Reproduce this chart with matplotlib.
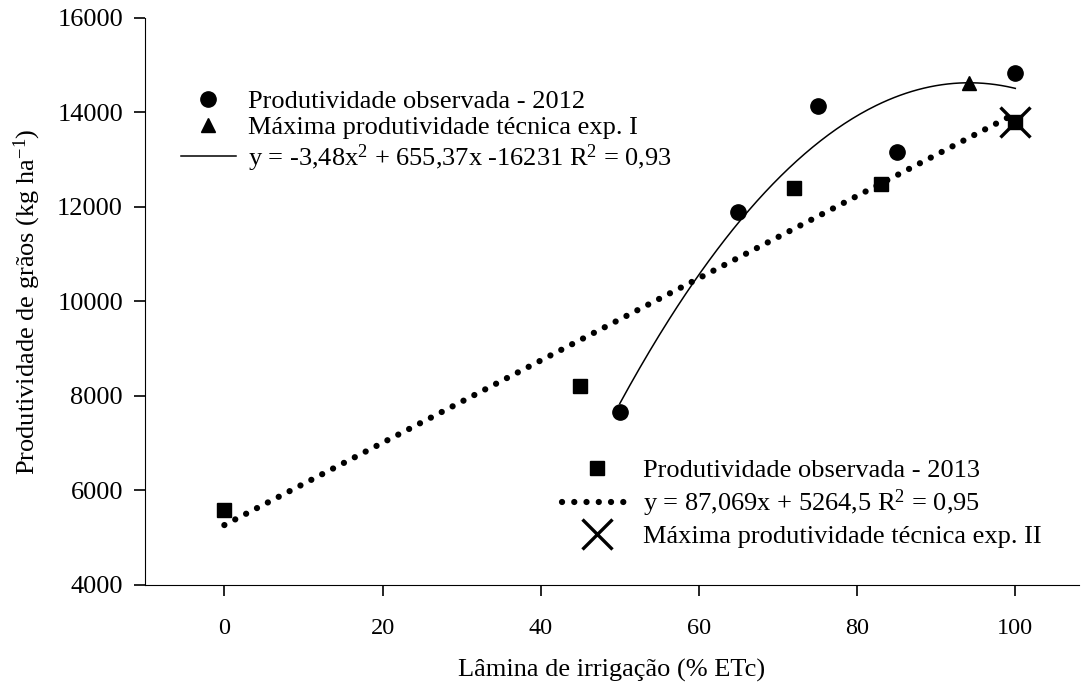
import matplotlib
matplotlib.use('Agg')
import matplotlib.pyplot as plt
import numpy as np

plt.rcParams['font.family'] = ['Liberation Serif', 'DejaVu Serif']
plt.rcParams['mathtext.fontset'] = 'custom'
plt.rcParams['mathtext.rm'] = 'Liberation Serif'
plt.rcParams['mathtext.it'] = 'Liberation Serif:italic'

# Dados
lamina_2012 = [50, 65, 75, 85, 100]
prod_2012 = [7650, 11880, 14140, 13170, 14840]

lamina_2013 = [0, 45, 72, 83, 100]
prod_2013 = [5580, 8200, 12390, 12490, 13800]

max_exp1 = (94.2, 14620)
max_exp2 = (100, 13800)

# coeficientes das equacoes da legenda
coef_quad = [-3.48, 655.37, -16231]
coef_lin = [87.069, 5264.5]

fig, ax = plt.subplots(figsize=(10.84, 6.84), dpi=100)
fig.subplots_adjust(left=0.134, right=0.995, bottom=0.145, top=0.974)

xq = np.linspace(50, 100, 200)
xl = np.linspace(0, 100, 200)

h_c, = ax.plot(lamina_2012, prod_2012, 'o', color='black', markersize=11, linestyle='none')
h_t, = ax.plot(max_exp1[0], max_exp1[1], '^', color='black', markersize=10, linestyle='none')
h_q, = ax.plot(xq, np.polyval(coef_quad, xq), '-', color='black', linewidth=1.1)

h_l, = ax.plot(xl, np.polyval(coef_lin, xl), color='black', linewidth=4.5,
               linestyle=(0, (0.01, 1.95)), dash_capstyle='round')
h_s, = ax.plot(lamina_2013, prod_2013, 's', color='black', markersize=10, linestyle='none')
h_x, = ax.plot(max_exp2[0], max_exp2[1], 'x', color='black', markersize=22, markeredgewidth=2.4,
               linestyle='none')

fs = 19
leg1 = ax.legend([h_c, h_t, h_q],
                 ['Produtividade observada - 2012',
                  'Máxima produtividade técnica exp. I',
                  r'y = -3,48x$^2$ + 655,37x -16231 R$^2$ = 0,93'],
                 loc='upper left', bbox_to_anchor=(0.038, 0.873), frameon=False,
                 fontsize=fs, handlelength=2.1, handletextpad=0.45, labelspacing=0.1,
                 borderaxespad=0, borderpad=0)
ax.add_artist(leg1)
ax.legend([h_s, h_l, h_x],
          ['Produtividade observada - 2013',
           r'y = 87,069x + 5264,5 R$^2$ = 0,95',
           'Máxima produtividade técnica exp. II'],
          loc='upper left', bbox_to_anchor=(0.447, 0.222), frameon=False,
          fontsize=fs, handlelength=2.6, handletextpad=0.45, labelspacing=0.2,
          borderaxespad=0, borderpad=0)

ax.set_xlim(-10, 108)
ax.set_ylim(4000, 16000)
ax.set_xticks([0, 20, 40, 60, 80, 100])
ax.set_yticks(np.arange(4000, 16001, 2000))
ax.spines['top'].set_visible(False)
ax.spines['right'].set_visible(False)
ax.tick_params(direction='out', length=8, width=1.2)
ax.tick_params(axis='x', pad=16, labelsize=17.5)
ax.tick_params(axis='y', pad=8, labelsize=19)

ax.set_xlabel('Lâmina de irrigação (% ETc)', fontsize=fs, labelpad=14)
ax.set_ylabel('Produtividade de grãos (kg ha$^{-1}$)', fontsize=fs, labelpad=10)

fig.savefig('out.png', dpi=100)
